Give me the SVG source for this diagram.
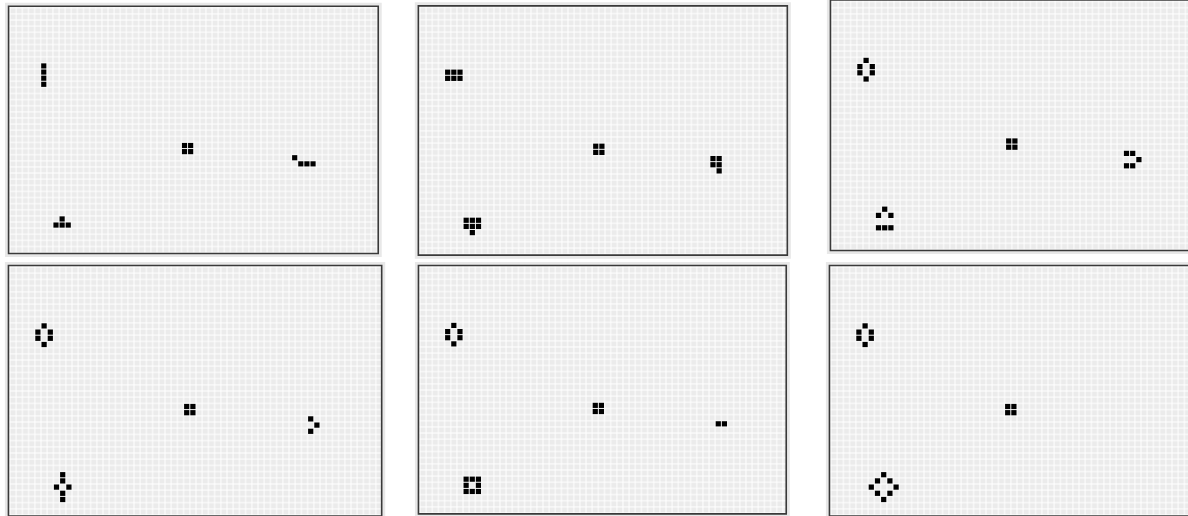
<svg xmlns="http://www.w3.org/2000/svg" width="1188" height="516" viewBox="0 0 1188 516">
<style>
.bg{fill:url(#grid)}
.frame{fill:none;stroke:#3a3a3a;stroke-width:1.6;vector-effect:non-scaling-stroke}
.halo{fill:none;stroke:#e8e8e8;stroke-width:4;vector-effect:non-scaling-stroke}
.live{fill:#000}
</style>
<defs>
<pattern id="grid" patternUnits="userSpaceOnUse" x="0" y="0" width="1" height="1">
<rect width="1" height="1" fill="#ffffff"/>
<rect x="0.08" y="0.08" width="0.84" height="0.84" fill="#ebebeb"/>
</pattern>
<g id="block">
<rect class="live" x="28.08" y="22.08" width="0.84" height="0.84"/>
<rect class="live" x="29.08" y="22.08" width="0.84" height="0.84"/>
<rect class="live" x="28.08" y="23.08" width="0.84" height="0.84"/>
<rect class="live" x="29.08" y="23.08" width="0.84" height="0.84"/>
</g>
<g id="beehive">
<rect class="live" x="5.08" y="9.08" width="0.84" height="0.84"/>
<rect class="live" x="4.08" y="10.08" width="0.84" height="0.84"/>
<rect class="live" x="6.08" y="10.08" width="0.84" height="0.84"/>
<rect class="live" x="4.08" y="11.08" width="0.84" height="0.84"/>
<rect class="live" x="6.08" y="11.08" width="0.84" height="0.84"/>
<rect class="live" x="5.08" y="12.08" width="0.84" height="0.84"/>
</g>
</defs>
<rect width="1188" height="516" fill="#ffffff"/>

<g id="panel1" transform="translate(10.1,7.8) scale(6.12)">
<rect class="halo" x="-0.5" y="-0.5" width="60.9" height="40.9"/>
<rect class="bg" x="-0.25" y="-0.25" width="60.4" height="40.4"/>
<rect class="frame" x="-0.25" y="-0.25" width="60.4" height="40.4"/>
<rect class="live" x="5.08" y="9.08" width="0.84" height="0.84"/>
<rect class="live" x="5.08" y="10.08" width="0.84" height="0.84"/>
<rect class="live" x="5.08" y="11.08" width="0.84" height="0.84"/>
<rect class="live" x="5.08" y="12.08" width="0.84" height="0.84"/>
<use href="#block"/>
<rect class="live" x="46.08" y="24.08" width="0.84" height="0.84"/>
<rect class="live" x="47.08" y="25.08" width="0.84" height="0.84"/>
<rect class="live" x="48.08" y="25.08" width="0.84" height="0.84"/>
<rect class="live" x="49.08" y="25.08" width="0.84" height="0.84"/>
<rect class="live" x="8.08" y="34.08" width="0.84" height="0.84"/>
<rect class="live" x="7.08" y="35.08" width="0.84" height="0.84"/>
<rect class="live" x="8.08" y="35.08" width="0.84" height="0.84"/>
<rect class="live" x="9.08" y="35.08" width="0.84" height="0.84"/>
</g>

<g id="panel2" transform="translate(419.9,7.4) scale(6.17)">
<rect class="halo" x="-0.5" y="-0.5" width="60.3" height="40.9"/>
<rect class="bg" x="-0.25" y="-0.25" width="59.8" height="40.4"/>
<rect class="frame" x="-0.25" y="-0.25" width="59.8" height="40.4"/>
<rect class="live" x="4.08" y="10.08" width="0.84" height="0.84"/>
<rect class="live" x="5.08" y="10.08" width="0.84" height="0.84"/>
<rect class="live" x="6.08" y="10.08" width="0.84" height="0.84"/>
<rect class="live" x="4.08" y="11.08" width="0.84" height="0.84"/>
<rect class="live" x="5.08" y="11.08" width="0.84" height="0.84"/>
<rect class="live" x="6.08" y="11.08" width="0.84" height="0.84"/>
<use href="#block"/>
<rect class="live" x="47.08" y="24.08" width="0.84" height="0.84"/>
<rect class="live" x="48.08" y="24.08" width="0.84" height="0.84"/>
<rect class="live" x="47.08" y="25.08" width="0.84" height="0.84"/>
<rect class="live" x="48.08" y="25.08" width="0.84" height="0.84"/>
<rect class="live" x="48.08" y="26.08" width="0.84" height="0.84"/>
<rect class="live" x="7.08" y="34.08" width="0.84" height="0.84"/>
<rect class="live" x="8.08" y="34.08" width="0.84" height="0.84"/>
<rect class="live" x="9.08" y="34.08" width="0.84" height="0.84"/>
<rect class="live" x="7.08" y="35.08" width="0.84" height="0.84"/>
<rect class="live" x="8.08" y="35.08" width="0.84" height="0.84"/>
<rect class="live" x="9.08" y="35.08" width="0.84" height="0.84"/>
<rect class="live" x="8.08" y="36.08" width="0.84" height="0.84"/>
</g>

<g id="panel3" transform="translate(832,1.5) scale(6.2)">
<rect class="halo" x="-0.5" y="-0.5" width="61" height="40.9"/>
<rect class="bg" x="-0.25" y="-0.25" width="60.5" height="40.4"/>
<rect class="frame" x="-0.25" y="-0.25" width="60.5" height="40.4"/>
<use href="#beehive"/>
<use href="#block"/>
<rect class="live" x="47.08" y="24.08" width="0.84" height="0.84"/>
<rect class="live" x="48.08" y="24.08" width="0.84" height="0.84"/>
<rect class="live" x="49.08" y="25.08" width="0.84" height="0.84"/>
<rect class="live" x="47.08" y="26.08" width="0.84" height="0.84"/>
<rect class="live" x="48.08" y="26.08" width="0.84" height="0.84"/>
<rect class="live" x="8.08" y="33.08" width="0.84" height="0.84"/>
<rect class="live" x="7.08" y="34.08" width="0.84" height="0.84"/>
<rect class="live" x="9.08" y="34.08" width="0.84" height="0.84"/>
<rect class="live" x="7.08" y="36.08" width="0.84" height="0.84"/>
<rect class="live" x="8.08" y="36.08" width="0.84" height="0.84"/>
<rect class="live" x="9.08" y="36.08" width="0.84" height="0.84"/>
</g>

<g id="panel4" transform="translate(10,267) scale(6.2)">
<rect class="halo" x="-0.5" y="-0.5" width="60.7" height="40.9"/>
<rect class="bg" x="-0.25" y="-0.25" width="60.2" height="40.4"/>
<rect class="frame" x="-0.25" y="-0.25" width="60.2" height="40.4"/>
<use href="#beehive"/>
<use href="#block"/>
<rect class="live" x="48.08" y="24.08" width="0.84" height="0.84"/>
<rect class="live" x="49.08" y="25.08" width="0.84" height="0.84"/>
<rect class="live" x="48.08" y="26.08" width="0.84" height="0.84"/>
<rect class="live" x="8.08" y="33.08" width="0.84" height="0.84"/>
<rect class="live" x="8.08" y="34.08" width="0.84" height="0.84"/>
<rect class="live" x="7.08" y="35.08" width="0.84" height="0.84"/>
<rect class="live" x="9.08" y="35.08" width="0.84" height="0.84"/>
<rect class="live" x="8.08" y="36.08" width="0.84" height="0.84"/>
<rect class="live" x="8.08" y="37.08" width="0.84" height="0.84"/>
</g>

<g id="panel5" transform="translate(420,267) scale(6.15)">
<rect class="halo" x="-0.5" y="-0.5" width="60.3" height="40.9"/>
<rect class="bg" x="-0.25" y="-0.25" width="59.8" height="40.4"/>
<rect class="frame" x="-0.25" y="-0.25" width="59.8" height="40.4"/>
<use href="#beehive"/>
<use href="#block"/>
<rect class="live" x="48.08" y="25.08" width="0.84" height="0.84"/>
<rect class="live" x="49.08" y="25.08" width="0.84" height="0.84"/>
<rect class="live" x="7.08" y="34.08" width="0.84" height="0.84"/>
<rect class="live" x="8.08" y="34.08" width="0.84" height="0.84"/>
<rect class="live" x="9.08" y="34.08" width="0.84" height="0.84"/>
<rect class="live" x="7.08" y="35.08" width="0.84" height="0.84"/>
<rect class="live" x="9.08" y="35.08" width="0.84" height="0.84"/>
<rect class="live" x="7.08" y="36.08" width="0.84" height="0.84"/>
<rect class="live" x="8.08" y="36.08" width="0.84" height="0.84"/>
<rect class="live" x="9.08" y="36.08" width="0.84" height="0.84"/>
</g>

<g id="panel6" transform="translate(831,267) scale(6.2)">
<rect class="halo" x="-0.5" y="-0.5" width="61" height="40.9"/>
<rect class="bg" x="-0.25" y="-0.25" width="60.5" height="40.4"/>
<rect class="frame" x="-0.25" y="-0.25" width="60.5" height="40.4"/>
<use href="#beehive"/>
<use href="#block"/>
<rect class="live" x="8.08" y="33.08" width="0.84" height="0.84"/>
<rect class="live" x="7.08" y="34.08" width="0.84" height="0.84"/>
<rect class="live" x="9.08" y="34.08" width="0.84" height="0.84"/>
<rect class="live" x="6.08" y="35.08" width="0.84" height="0.84"/>
<rect class="live" x="10.08" y="35.08" width="0.84" height="0.84"/>
<rect class="live" x="7.08" y="36.08" width="0.84" height="0.84"/>
<rect class="live" x="9.08" y="36.08" width="0.84" height="0.84"/>
<rect class="live" x="8.08" y="37.08" width="0.84" height="0.84"/>
</g>
</svg>
